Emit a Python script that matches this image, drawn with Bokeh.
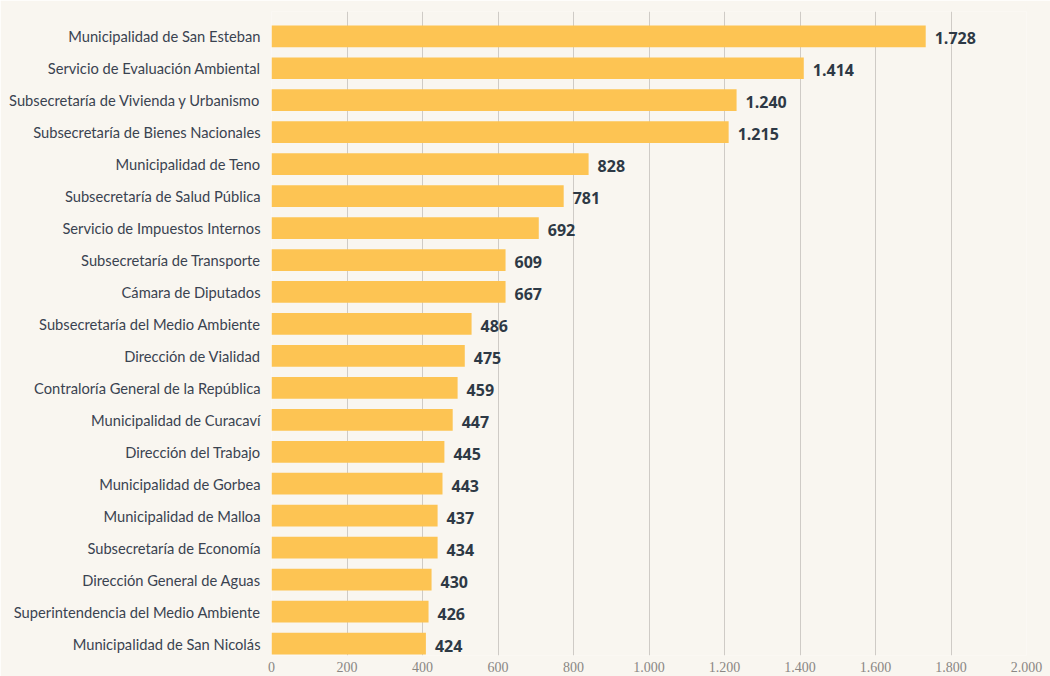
from bokeh.plotting import figure
from bokeh.models import ColumnDataSource, FixedTicker, Range1d, LabelSet
from bokeh.core.properties import value
from bokeh.embed import file_html
from bokeh.resources import INLINE

categories = [
    "Municipalidad de San Esteban",
    "Servicio de Evaluación Ambiental",
    "Subsecretaría de Vivienda y Urbanismo",
    "Subsecretaría de Bienes Nacionales",
    "Municipalidad de Teno",
    "Subsecretaría de Salud Pública",
    "Servicio de Impuestos Internos",
    "Subsecretaría de Transporte",
    "Cámara de Diputados",
    "Subsecretaría del Medio Ambiente",
    "Dirección de Vialidad",
    "Contraloría General de la República",
    "Municipalidad de Curacaví",
    "Dirección del Trabajo",
    "Municipalidad de Gorbea",
    "Municipalidad de Malloa",
    "Subsecretaría de Economía",
    "Dirección General de Aguas",
    "Superintendencia del Medio Ambiente",
    "Municipalidad de San Nicolás",
]
# bar lengths as drawn in the picture
bar_values = [1733, 1410, 1232, 1211, 840, 774, 708, 620, 620, 530,
              512, 493, 480, 458, 453, 440, 440, 424, 416, 409]
# printed value labels
value_labels = ["1.728", "1.414", "1.240", "1.215", "828", "781", "692", "609", "667", "486",
                "475", "459", "447", "445", "443", "437", "434", "430", "426", "424"]
x_ticks = [0, 200, 400, 600, 800, 1000, 1200, 1400, 1600, 1800, 2000]
x_tick_labels = ["0", "200", "400", "600", "800", "1.000", "1.200", "1.400", "1.600", "1.800", "2.000"]

n = len(categories)
ypos = [n - 1 - i for i in range(n)]

src = ColumnDataSource(dict(y=ypos, v=bar_values, lab=value_labels, name=categories))

BG = "#f9f6f0"
p = figure(width=1050, height=676, output_backend="svg", toolbar_location=None,
           x_range=Range1d(0, 2000), y_range=Range1d(-0.375, n - 1 + 0.776),
           background_fill_color=BG, border_fill_color=BG,
           min_border_left=271, min_border_right=24, min_border_top=11, min_border_bottom=21)
p.outline_line_color = None

p.hbar(y="y", right="v", left=0, height=0.68, source=src, color="#fdc453", line_color=None)

labels = LabelSet(x="v", y="y", text="lab", source=src, x_offset=9, y_offset=-2,
                  text_baseline="middle", text_align="left",
                  text_font=value("Open Sans"), text_font_style="bold", text_font_size="16px",
                  text_color="#2e3945")
p.add_layout(labels)

p.xaxis.ticker = FixedTicker(ticks=x_ticks)
p.xaxis.major_label_overrides = {t: l for t, l in zip(x_ticks, x_tick_labels)}
p.xaxis.axis_line_color = None
p.xaxis.major_tick_line_color = None
p.xaxis.minor_tick_line_color = None
p.xaxis.major_tick_out = 0
p.xaxis.major_label_standoff = 6
p.xaxis.major_label_text_font = "Liberation Serif"
p.xaxis.major_label_text_font_size = "14px"
p.xaxis.major_label_text_color = "#8a8784"

p.yaxis.ticker = FixedTicker(ticks=ypos)
p.yaxis.major_label_overrides = {y: c for y, c in zip(ypos, categories)}
p.yaxis.axis_line_color = None
p.yaxis.major_tick_line_color = None
p.yaxis.minor_tick_line_color = None
p.yaxis.major_tick_out = 0
p.yaxis.major_label_standoff = 11
p.yaxis.major_label_text_font = "Lato"
p.yaxis.major_label_text_font_size = "14.7px"
p.yaxis.major_label_text_color = "#3a4350"

p.ygrid.grid_line_color = None
p.xgrid.grid_line_color = "#cfcbc6"
p.xgrid.grid_line_width = 1

open("out.html", "w").write(file_html(p, INLINE))
